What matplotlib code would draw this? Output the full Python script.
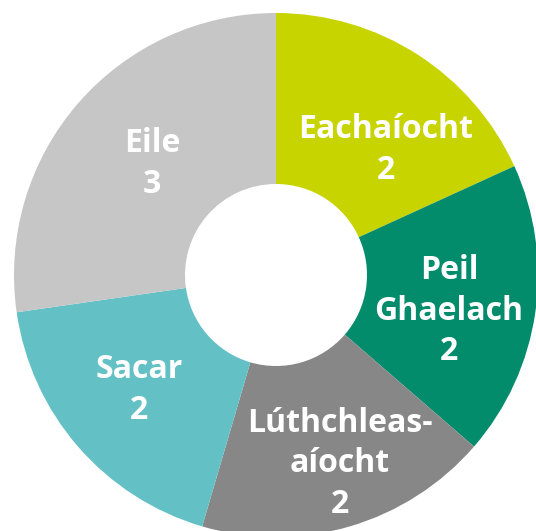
import matplotlib.pyplot as plt

# data
labels = ["Eachaíocht", "Peil\nGhaelach", "Lúthchleas-\naíocht", "Sacar", "Eile"]
values = [2, 2, 2, 2, 3]
colors = ["#C8D400", "#028C6B", "#878787", "#63C1C6", "#C6C6C6"]

# layout (pixel coords, y measured from top of image)
W, H = 536, 531
center_px = (276, 275)
outer_r = 262
inner_r = 91
label_pos = [(386, 150), (449, 311), (340, 464), (139, 390), (152, 164)]

fig = plt.figure(figsize=(W / 100, H / 100), dpi=100)
ax = fig.add_axes([0, 0, 1, 1])

ax.pie(values, colors=colors, startangle=90, counterclock=False,
       center=(center_px[0], H - center_px[1]), radius=outer_r,
       wedgeprops=dict(width=outer_r - inner_r, linewidth=0))

for lab, val, (x, y) in zip(labels, values, label_pos):
    ax.text(x, H - y, f"{lab}\n{val}", ha="center", va="center",
            color="white", fontsize=23, fontweight="bold",
            family="Open Sans", linespacing=1.3)

ax.set_xlim(0, W)
ax.set_ylim(0, H)
ax.set_aspect("equal")
ax.axis("off")

fig.savefig("out.png", dpi=100, facecolor="white")
